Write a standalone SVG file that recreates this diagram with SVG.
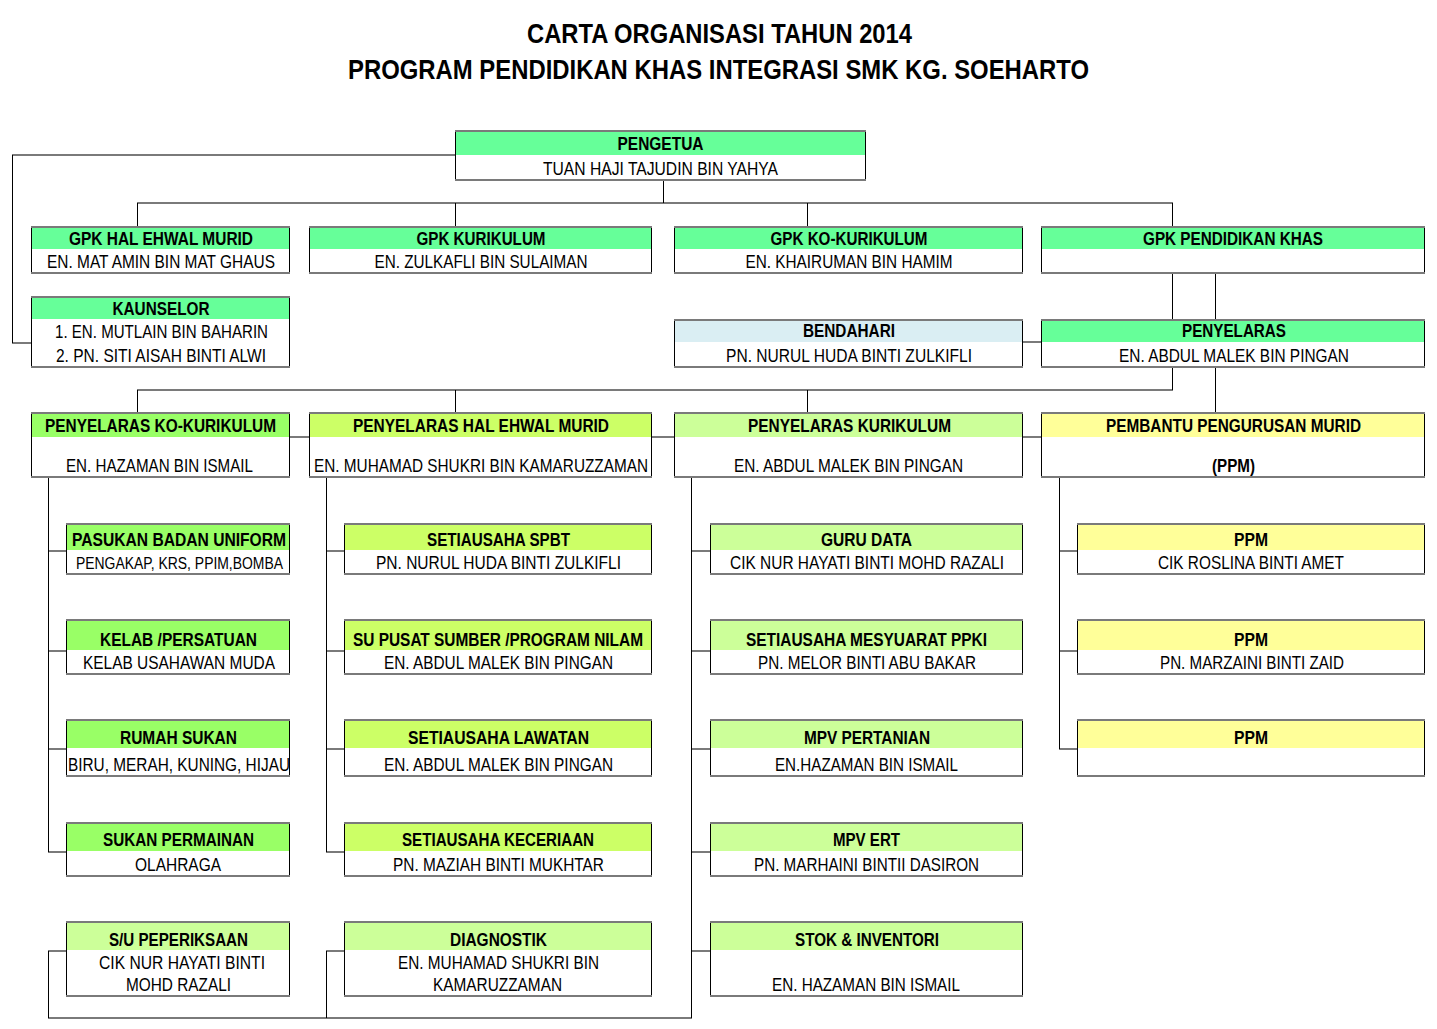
<svg xmlns="http://www.w3.org/2000/svg" width="1437" height="1029" viewBox="0 0 1437 1029">
<style>
.bg{fill:#fff}
.fr{fill:none;stroke:#000;stroke-width:1}
.tb{fill:none;stroke:#7a7a7a;stroke-width:2}
.c1{fill:#66FF99}.c2{fill:#99FF66}.c3{fill:#CCFF66}.c4{fill:#CCFF99}.c5{fill:#FFFF99}.c6{fill:#DAEEF3}
text{font-family:"Liberation Sans Narrow","Arial Narrow","Liberation Sans",Arial,sans-serif;text-anchor:middle;fill:#000}
.t{font-size:28px;font-weight:bold}
.h{font-size:19px;font-weight:bold}
.n{font-size:19px}
.s{font-size:16px}
.hl{fill:none;stroke:#7a7a7a;stroke-width:2}
.vl{fill:none;stroke:#000;stroke-width:1}
</style>
<rect width="1437" height="1029" fill="#fff"/>
<g id="title">
<text class="t" x="719.5" y="43" textLength="385" lengthAdjust="spacingAndGlyphs">CARTA ORGANISASI TAHUN 2014</text>
<text class="t" x="718.5" y="79" textLength="741" lengthAdjust="spacingAndGlyphs">PROGRAM PENDIDIKAN KHAS INTEGRASI SMK KG. SOEHARTO</text>
</g>
<g id="connectors">
<path class="hl" d="M455 155H12M12 343H31M137 203H1173M1023 342H1041M137 390H1173M290 437H309M652 437H674M1023 437H1041"/>
<path class="vl" d="M12.5 155V343M663.5 180V203M137.5 203V227M455.5 203V227M807.5 203V227M1172.5 203V227M1172.5 273V320M1215.5 273V320M1172.5 367V390M1215.5 367V413M137.5 390V413M455.5 390V413M807.5 390V413"/>
<path class="hl" d="M48 551H66M48 651H66M48 749H66M48 852H66M48 951H66M326 551H344M326 651H344M326 749H344M326 852H344M326 951H344M691 551H710M691 651H710M691 749H710M691 852H710M691 951H710M1059 551H1077M1059 651H1077M1059 749H1077M48 1018H692"/>
<path class="vl" d="M48.5 477V852M48.5 951V1018M326.5 477V852M326.5 951V1018M691.5 477V1018M1059.5 477V749"/>
</g>
<g id="pengetua"><rect class="bg" x="455" y="131" width="411" height="49"/><rect class="c1" x="455" y="131" width="411" height="24"/><rect class="fr" x="455.5" y="131" width="410" height="49"/><path class="tb" d="M455 131H866M455 180H866"/>
<text class="h" x="660.5" y="150" textLength="86" lengthAdjust="spacingAndGlyphs">PENGETUA</text>
<text class="n" x="660.5" y="175" textLength="235" lengthAdjust="spacingAndGlyphs">TUAN HAJI TAJUDIN BIN YAHYA</text></g>
<g id="gpk-hem"><rect class="bg" x="31" y="227" width="259" height="46"/><rect class="c1" x="31" y="227" width="259" height="22"/><rect class="fr" x="31.5" y="227" width="258" height="46"/><path class="tb" d="M31 227H290M31 273H290"/>
<text class="h" x="161" y="245" textLength="184" lengthAdjust="spacingAndGlyphs">GPK HAL EHWAL MURID</text>
<text class="n" x="161" y="268" textLength="228" lengthAdjust="spacingAndGlyphs">EN. MAT AMIN BIN MAT GHAUS</text></g>
<g id="gpk-kurikulum"><rect class="bg" x="309" y="227" width="343" height="46"/><rect class="c1" x="309" y="227" width="343" height="22"/><rect class="fr" x="309.5" y="227" width="342" height="46"/><path class="tb" d="M309 227H652M309 273H652"/>
<text class="h" x="481" y="245" textLength="129" lengthAdjust="spacingAndGlyphs">GPK KURIKULUM</text>
<text class="n" x="481" y="268" textLength="213" lengthAdjust="spacingAndGlyphs">EN. ZULKAFLI BIN SULAIMAN</text></g>
<g id="gpk-kokurikulum"><rect class="bg" x="674" y="227" width="349" height="46"/><rect class="c1" x="674" y="227" width="349" height="22"/><rect class="fr" x="674.5" y="227" width="348" height="46"/><path class="tb" d="M674 227H1023M674 273H1023"/>
<text class="h" x="849" y="245" textLength="157" lengthAdjust="spacingAndGlyphs">GPK KO-KURIKULUM</text>
<text class="n" x="849" y="268" textLength="207" lengthAdjust="spacingAndGlyphs">EN. KHAIRUMAN BIN HAMIM</text></g>
<g id="gpk-pk"><rect class="bg" x="1041" y="227" width="384" height="46"/><rect class="c1" x="1041" y="227" width="384" height="22"/><rect class="fr" x="1041.5" y="227" width="383" height="46"/><path class="tb" d="M1041 227H1425M1041 273H1425"/>
<text class="h" x="1233" y="245" textLength="180" lengthAdjust="spacingAndGlyphs">GPK PENDIDIKAN KHAS</text></g>
<g id="kaunselor"><rect class="bg" x="31" y="297" width="259" height="70"/><rect class="c1" x="31" y="297" width="259" height="22"/><rect class="fr" x="31.5" y="297" width="258" height="70"/><path class="tb" d="M31 297H290M31 367H290"/>
<text class="h" x="161" y="315" textLength="97" lengthAdjust="spacingAndGlyphs">KAUNSELOR</text>
<text class="n" x="161.5" y="338" textLength="213" lengthAdjust="spacingAndGlyphs">1. EN. MUTLAIN BIN BAHARIN</text>
<text class="n" x="161" y="362" textLength="210" lengthAdjust="spacingAndGlyphs">2. PN. SITI AISAH BINTI ALWI</text></g>
<g id="bendahari"><rect class="bg" x="674" y="320" width="349" height="47"/><rect class="c6" x="674" y="320" width="349" height="22"/><rect class="fr" x="674.5" y="320" width="348" height="47"/><path class="tb" d="M674 320H1023M674 367H1023"/>
<text class="h" x="849" y="337" textLength="92" lengthAdjust="spacingAndGlyphs">BENDAHARI</text>
<text class="n" x="849" y="362" textLength="246" lengthAdjust="spacingAndGlyphs">PN. NURUL HUDA BINTI ZULKIFLI</text></g>
<g id="penyelaras"><rect class="bg" x="1041" y="320" width="384" height="47"/><rect class="c1" x="1041" y="320" width="384" height="22"/><rect class="fr" x="1041.5" y="320" width="383" height="47"/><path class="tb" d="M1041 320H1425M1041 367H1425"/>
<text class="h" x="1234" y="337" textLength="104" lengthAdjust="spacingAndGlyphs">PENYELARAS</text>
<text class="n" x="1234" y="362" textLength="230" lengthAdjust="spacingAndGlyphs">EN. ABDUL MALEK BIN PINGAN</text></g>
<g id="penyelaras-kokurikulum"><rect class="bg" x="31" y="413" width="259" height="64"/><rect class="c2" x="31" y="413" width="259" height="24"/><rect class="fr" x="31.5" y="413" width="258" height="64"/><path class="tb" d="M31 413H290M31 477H290"/>
<text class="h" x="160.5" y="432" textLength="231" lengthAdjust="spacingAndGlyphs">PENYELARAS KO-KURIKULUM</text>
<text class="n" x="159.5" y="472" textLength="187" lengthAdjust="spacingAndGlyphs">EN. HAZAMAN BIN ISMAIL</text></g>
<g id="penyelaras-hem"><rect class="bg" x="309" y="413" width="343" height="64"/><rect class="c3" x="309" y="413" width="343" height="24"/><rect class="fr" x="309.5" y="413" width="342" height="64"/><path class="tb" d="M309 413H652M309 477H652"/>
<text class="h" x="481" y="432" textLength="256" lengthAdjust="spacingAndGlyphs">PENYELARAS HAL EHWAL MURID</text>
<text class="n" x="481" y="472" textLength="334" lengthAdjust="spacingAndGlyphs">EN. MUHAMAD SHUKRI BIN KAMARUZZAMAN</text></g>
<g id="penyelaras-kurikulum"><rect class="bg" x="674" y="413" width="349" height="64"/><rect class="c4" x="674" y="413" width="349" height="24"/><rect class="fr" x="674.5" y="413" width="348" height="64"/><path class="tb" d="M674 413H1023M674 477H1023"/>
<text class="h" x="849.5" y="432" textLength="203" lengthAdjust="spacingAndGlyphs">PENYELARAS KURIKULUM</text>
<text class="n" x="848.5" y="472" textLength="229" lengthAdjust="spacingAndGlyphs">EN. ABDUL MALEK BIN PINGAN</text></g>
<g id="pembantu-pengurusan-murid"><rect class="bg" x="1041" y="413" width="384" height="64"/><rect class="c5" x="1041" y="413" width="384" height="24"/><rect class="fr" x="1041.5" y="413" width="383" height="64"/><path class="tb" d="M1041 413H1425M1041 477H1425"/>
<text class="h" x="1233.5" y="432" textLength="255" lengthAdjust="spacingAndGlyphs">PEMBANTU PENGURUSAN MURID</text>
<text class="h" x="1233.5" y="472" textLength="43" lengthAdjust="spacingAndGlyphs">(PPM)</text></g>
<!-- column 1 -->
<g id="pasukan-badan-uniform"><rect class="bg" x="66" y="524" width="224" height="50"/><rect class="c2" x="66" y="524" width="224" height="26"/><rect class="fr" x="66.5" y="524" width="223" height="50"/><path class="tb" d="M66 524H290M66 574H290"/>
<text class="h" x="179" y="546" textLength="214" lengthAdjust="spacingAndGlyphs">PASUKAN BADAN UNIFORM</text>
<text class="s" x="179.5" y="569" textLength="207" lengthAdjust="spacingAndGlyphs">PENGAKAP, KRS, PPIM,BOMBA</text></g>
<g id="kelab-persatuan"><rect class="bg" x="66" y="620" width="224" height="54"/><rect class="c2" x="66" y="620" width="224" height="30"/><rect class="fr" x="66.5" y="620" width="223" height="54"/><path class="tb" d="M66 620H290M66 674H290"/>
<text class="h" x="178.5" y="646" textLength="157" lengthAdjust="spacingAndGlyphs">KELAB /PERSATUAN</text>
<text class="n" x="179" y="669" textLength="192" lengthAdjust="spacingAndGlyphs">KELAB USAHAWAN MUDA</text></g>
<g id="rumah-sukan"><rect class="bg" x="66" y="720" width="224" height="56"/><rect class="c2" x="66" y="720" width="224" height="28"/><rect class="fr" x="66.5" y="720" width="223" height="56"/><path class="tb" d="M66 720H290M66 776H290"/>
<text class="h" x="178.5" y="744" textLength="117" lengthAdjust="spacingAndGlyphs">RUMAH SUKAN</text>
<text class="n" x="179" y="771" textLength="222" lengthAdjust="spacingAndGlyphs">BIRU, MERAH, KUNING, HIJAU</text></g>
<g id="sukan-permainan"><rect class="bg" x="66" y="823" width="224" height="53"/><rect class="c2" x="66" y="823" width="224" height="28"/><rect class="fr" x="66.5" y="823" width="223" height="53"/><path class="tb" d="M66 823H290M66 876H290"/>
<text class="h" x="178.5" y="846" textLength="151" lengthAdjust="spacingAndGlyphs">SUKAN PERMAINAN</text>
<text class="n" x="178" y="871" textLength="86" lengthAdjust="spacingAndGlyphs">OLAHRAGA</text></g>
<g id="su-peperiksaan"><rect class="bg" x="66" y="922" width="224" height="74"/><rect class="c4" x="66" y="922" width="224" height="28"/><rect class="fr" x="66.5" y="922" width="223" height="74"/><path class="tb" d="M66 922H290M66 996H290"/>
<text class="h" x="178.5" y="946" textLength="139" lengthAdjust="spacingAndGlyphs">S/U PEPERIKSAAN</text>
<text class="n" x="182" y="969" textLength="166" lengthAdjust="spacingAndGlyphs">CIK NUR HAYATI BINTI</text>
<text class="n" x="178.5" y="991" textLength="105" lengthAdjust="spacingAndGlyphs">MOHD RAZALI</text></g>
<!-- column 2 -->
<g id="setiausaha-spbt"><rect class="bg" x="344" y="524" width="308" height="50"/><rect class="c3" x="344" y="524" width="308" height="26"/><rect class="fr" x="344.5" y="524" width="307" height="50"/><path class="tb" d="M344 524H652M344 574H652"/>
<text class="h" x="498.5" y="546" textLength="143" lengthAdjust="spacingAndGlyphs">SETIAUSAHA SPBT</text>
<text class="n" x="498.5" y="569" textLength="245" lengthAdjust="spacingAndGlyphs">PN. NURUL HUDA BINTI ZULKIFLI</text></g>
<g id="su-pusat-sumber"><rect class="bg" x="344" y="620" width="308" height="54"/><rect class="c3" x="344" y="620" width="308" height="30"/><rect class="fr" x="344.5" y="620" width="307" height="54"/><path class="tb" d="M344 620H652M344 674H652"/>
<text class="h" x="498" y="646" textLength="290" lengthAdjust="spacingAndGlyphs">SU PUSAT SUMBER /PROGRAM NILAM</text>
<text class="n" x="498.5" y="669" textLength="229" lengthAdjust="spacingAndGlyphs">EN. ABDUL MALEK BIN PINGAN</text></g>
<g id="setiausaha-lawatan"><rect class="bg" x="344" y="720" width="308" height="56"/><rect class="c3" x="344" y="720" width="308" height="28"/><rect class="fr" x="344.5" y="720" width="307" height="56"/><path class="tb" d="M344 720H652M344 776H652"/>
<text class="h" x="498.5" y="744" textLength="181" lengthAdjust="spacingAndGlyphs">SETIAUSAHA LAWATAN</text>
<text class="n" x="498.5" y="771" textLength="229" lengthAdjust="spacingAndGlyphs">EN. ABDUL MALEK BIN PINGAN</text></g>
<g id="setiausaha-keceriaan"><rect class="bg" x="344" y="823" width="308" height="53"/><rect class="c3" x="344" y="823" width="308" height="28"/><rect class="fr" x="344.5" y="823" width="307" height="53"/><path class="tb" d="M344 823H652M344 876H652"/>
<text class="h" x="498" y="846" textLength="192" lengthAdjust="spacingAndGlyphs">SETIAUSAHA KECERIAAN</text>
<text class="n" x="498.5" y="871" textLength="211" lengthAdjust="spacingAndGlyphs">PN. MAZIAH BINTI MUKHTAR</text></g>
<g id="diagnostik"><rect class="bg" x="344" y="922" width="308" height="74"/><rect class="c4" x="344" y="922" width="308" height="28"/><rect class="fr" x="344.5" y="922" width="307" height="74"/><path class="tb" d="M344 922H652M344 996H652"/>
<text class="h" x="498.5" y="946" textLength="97" lengthAdjust="spacingAndGlyphs">DIAGNOSTIK</text>
<text class="n" x="498.5" y="969" textLength="201" lengthAdjust="spacingAndGlyphs">EN. MUHAMAD SHUKRI BIN</text>
<text class="n" x="497.5" y="991" textLength="129" lengthAdjust="spacingAndGlyphs">KAMARUZZAMAN</text></g>
<!-- column 3 -->
<g id="guru-data"><rect class="bg" x="710" y="524" width="313" height="50"/><rect class="c4" x="710" y="524" width="313" height="26"/><rect class="fr" x="710.5" y="524" width="312" height="50"/><path class="tb" d="M710 524H1023M710 574H1023"/>
<text class="h" x="866.5" y="546" textLength="91" lengthAdjust="spacingAndGlyphs">GURU DATA</text>
<text class="n" x="867" y="569" textLength="274" lengthAdjust="spacingAndGlyphs">CIK NUR HAYATI BINTI MOHD RAZALI</text></g>
<g id="setiausaha-mesyuarat-ppki"><rect class="bg" x="710" y="620" width="313" height="54"/><rect class="c4" x="710" y="620" width="313" height="30"/><rect class="fr" x="710.5" y="620" width="312" height="54"/><path class="tb" d="M710 620H1023M710 674H1023"/>
<text class="h" x="866.5" y="646" textLength="241" lengthAdjust="spacingAndGlyphs">SETIAUSAHA MESYUARAT PPKI</text>
<text class="n" x="867" y="669" textLength="218" lengthAdjust="spacingAndGlyphs">PN. MELOR BINTI ABU BAKAR</text></g>
<g id="mpv-pertanian"><rect class="bg" x="710" y="720" width="313" height="56"/><rect class="c4" x="710" y="720" width="313" height="28"/><rect class="fr" x="710.5" y="720" width="312" height="56"/><path class="tb" d="M710 720H1023M710 776H1023"/>
<text class="h" x="867" y="744" textLength="126" lengthAdjust="spacingAndGlyphs">MPV PERTANIAN</text>
<text class="n" x="866.5" y="771" textLength="183" lengthAdjust="spacingAndGlyphs">EN.HAZAMAN BIN ISMAIL</text></g>
<g id="mpv-ert"><rect class="bg" x="710" y="823" width="313" height="53"/><rect class="c4" x="710" y="823" width="313" height="28"/><rect class="fr" x="710.5" y="823" width="312" height="53"/><path class="tb" d="M710 823H1023M710 876H1023"/>
<text class="h" x="866.5" y="846" textLength="67" lengthAdjust="spacingAndGlyphs">MPV ERT</text>
<text class="n" x="866.5" y="871" textLength="225" lengthAdjust="spacingAndGlyphs">PN. MARHAINI BINTII DASIRON</text></g>
<g id="stok-inventori"><rect class="bg" x="710" y="922" width="313" height="74"/><rect class="c4" x="710" y="922" width="313" height="28"/><rect class="fr" x="710.5" y="922" width="312" height="74"/><path class="tb" d="M710 922H1023M710 996H1023"/>
<text class="h" x="867" y="946" textLength="144" lengthAdjust="spacingAndGlyphs">STOK &amp; INVENTORI</text>
<text class="n" x="866" y="991" textLength="188" lengthAdjust="spacingAndGlyphs">EN. HAZAMAN BIN ISMAIL</text></g>
<!-- column 4 -->
<g id="ppm-1"><rect class="bg" x="1077" y="524" width="348" height="50"/><rect class="c5" x="1077" y="524" width="348" height="26"/><rect class="fr" x="1077.5" y="524" width="347" height="50"/><path class="tb" d="M1077 524H1425M1077 574H1425"/>
<text class="h" x="1251" y="546" textLength="34" lengthAdjust="spacingAndGlyphs">PPM</text>
<text class="n" x="1251" y="569" textLength="186" lengthAdjust="spacingAndGlyphs">CIK ROSLINA BINTI AMET</text></g>
<g id="ppm-2"><rect class="bg" x="1077" y="620" width="348" height="54"/><rect class="c5" x="1077" y="620" width="348" height="30"/><rect class="fr" x="1077.5" y="620" width="347" height="54"/><path class="tb" d="M1077 620H1425M1077 674H1425"/>
<text class="h" x="1251" y="646" textLength="34" lengthAdjust="spacingAndGlyphs">PPM</text>
<text class="n" x="1252" y="669" textLength="184" lengthAdjust="spacingAndGlyphs">PN. MARZAINI BINTI ZAID</text></g>
<g id="ppm-3"><rect class="bg" x="1077" y="720" width="348" height="56"/><rect class="c5" x="1077" y="720" width="348" height="28"/><rect class="fr" x="1077.5" y="720" width="347" height="56"/><path class="tb" d="M1077 720H1425M1077 776H1425"/>
<text class="h" x="1251" y="744" textLength="34" lengthAdjust="spacingAndGlyphs">PPM</text></g>
</svg>
